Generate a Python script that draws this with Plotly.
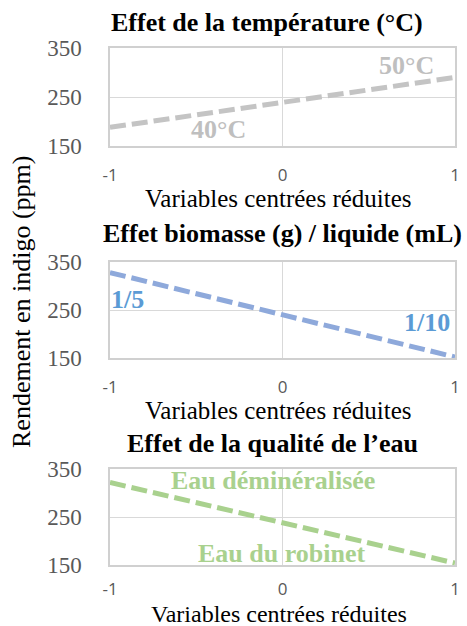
import plotly.graph_objects as go

W, H = 467, 626

# Data
x_vals = [-1, 0, 1]
temp_vals = [188, 239, 290]
biomass_vals = [328, 240, 152]
water_vals = [322, 238, 154]

titles = ["Effet de la température (°C)", "Effet biomasse (g) / liquide (mL)", "Effet de la qualité de l\u2019eau"]
x_title = "Variables centrées réduites"
y_title = "Rendement en indigo (ppm)"
y_ticks = [150, 250, 350]
x_ticks = [-1, 0, 1]

line_colors = ["#C4C4C4", "#8EA9DB", "#A9D18E"]
label_colors = ["#BFBFBF", "#5B9BD5", "#A9D18E"]

# annotation labels: (text, x, y)
labels = [
    [("50°C", 0.72, 315), ("40°C", -0.37, 183)],
    [("1/5", -0.90, 271), ("1/10", 0.84, 223)],
    [("Eau déminéralisée", -0.055, 327), ("Eau du robinet", -0.003, 175)],
]

# layout in pixels
x0, x1 = 110, 455
panels_px = [(48, 146), (262, 358), (469, 565)]
title_px = [(267, 22), (282, 233), (272, 443)]
xtitle_px = [199, 410, 614]
xtitle_size = [25, 25, 24]
xtick_standoff = [13, 13, 8]

serif = "Liberation Serif, Times New Roman, serif"

fig = go.Figure()
series = [temp_vals, biomass_vals, water_vals]
for i, vals in enumerate(series):
    sfx = "" if i == 0 else str(i + 1)
    fig.add_trace(go.Scatter(
        x=x_vals, y=vals, mode="lines",
        line=dict(color=line_colors[i], width=5, dash="16px,6px"),
        xaxis="x" + sfx, yaxis="y" + sfx, showlegend=False, hoverinfo="skip",
    ))

layout = dict(
    width=W, height=H,
    margin=dict(l=0, r=0, t=0, b=0, autoexpand=False),
    paper_bgcolor="white", plot_bgcolor="white",
    showlegend=False,
)
annotations = []
for i, (top, bot) in enumerate(panels_px):
    sfx = "" if i == 0 else str(i + 1)
    layout["xaxis" + sfx] = dict(
        domain=[x0 / W, x1 / W], range=[-1, 1], anchor="y" + sfx,
        tickvals=x_ticks, ticktext=[str(v) for v in x_ticks],
        tickfont=dict(family="Open Sans, Liberation Sans, sans-serif", size=17, color="#595959"),
        ticklabelstandoff=xtick_standoff[i], automargin=False,
        showgrid=True, gridcolor="#D9D9D9", gridwidth=1.3,
        showline=True, linecolor="#D0D0D0", linewidth=1.5, mirror=True,
        zeroline=False, ticks="", fixedrange=True,
    )
    layout["yaxis" + sfx] = dict(
        domain=[1 - bot / H, 1 - top / H], range=[150, 350], anchor="x" + sfx,
        tickvals=y_ticks, ticktext=[str(v) for v in y_ticks],
        tickfont=dict(family=serif, size=23, color="#595959"),
        ticklabelstandoff=22, automargin=False,
        showgrid=True, gridcolor="#D9D9D9", gridwidth=1.3,
        showline=True, linecolor="#D0D0D0", linewidth=1.5, mirror=True,
        zeroline=False, ticks="", fixedrange=True,
    )
    # panel title
    tx, ty = title_px[i]
    annotations.append(dict(
        text="<b>" + titles[i] + "</b>", xref="paper", yref="paper",
        x=tx / W, y=1 - ty / H, xanchor="center", yanchor="middle",
        showarrow=False, font=dict(family=serif, size=26, color="black"),
    ))
    # x axis title
    annotations.append(dict(
        text=x_title, xref="paper", yref="paper",
        x=((x0 + x1) / 2 - 4) / W, y=1 - xtitle_px[i] / H, xanchor="center", yanchor="middle",
        showarrow=False, font=dict(family=serif, size=xtitle_size[i], color="black"),
    ))
    for text, lx, ly in labels[i]:
        annotations.append(dict(
            text="<b>" + text + "</b>", xref="x" + sfx, yref="y" + sfx,
            x=lx, y=ly, xanchor="center", yanchor="middle", showarrow=False,
            font=dict(family=serif, size=26, color=label_colors[i]),
        ))

annotations.append(dict(
    text=y_title, xref="paper", yref="paper", x=22 / W, y=1 - 302 / H,
    xanchor="center", yanchor="middle", textangle=-90, showarrow=False,
    font=dict(family=serif, size=26, color="black"),
))
layout["annotations"] = annotations
fig.update_layout(**layout)
fig.write_html(
    "out.html",
    config={"displayModeBar": False},
    post_script="document.body.style.margin='0';document.body.style.padding='0';",
)
